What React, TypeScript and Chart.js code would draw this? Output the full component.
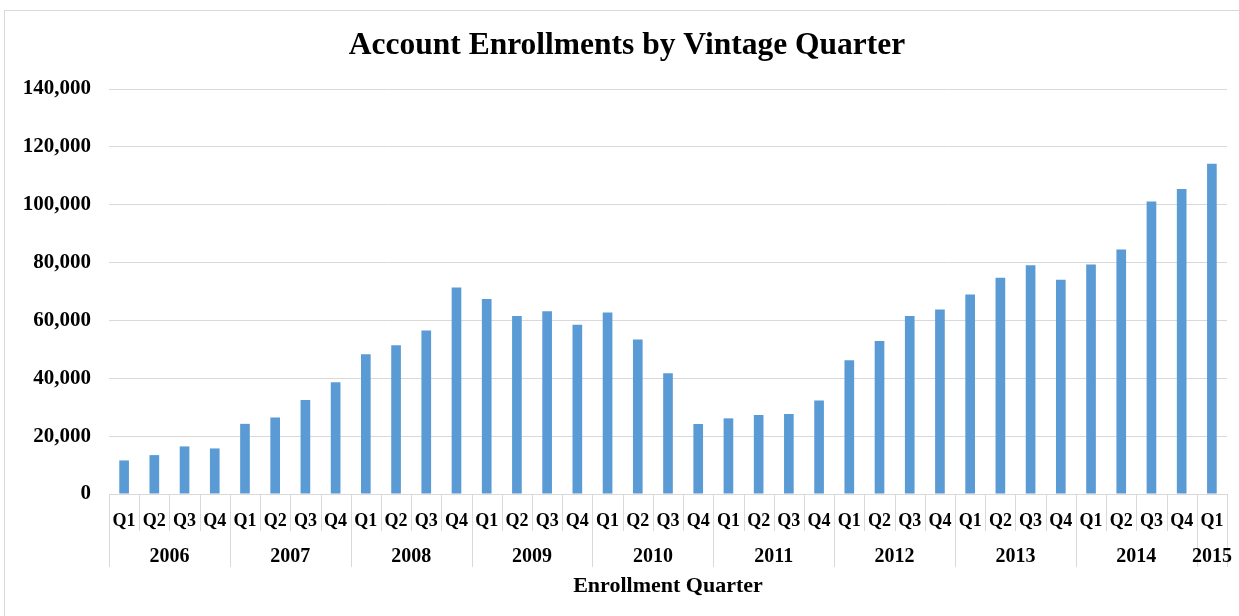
import React, { useEffect, useRef } from "react";
import { Chart, registerables } from "chart.js";

Chart.register(...registerables);

const chartTitle = "Account Enrollments by Vintage Quarter";
const years = ["2006", "2007", "2008", "2009", "2010", "2011", "2012", "2013", "2014", "2015"];
const quartersPerYear = [4, 4, 4, 4, 4, 4, 4, 4, 4, 1];
const quarterNames = ["Q1", "Q2", "Q3", "Q4"];
const enrollments = [
  11600, 13450, 16450, 15750,
  24250, 26450, 32500, 38600,
  48300, 51400, 56550, 71400,
  67450, 61500, 63200, 58500,
  62750, 53450, 41700, 24200,
  26150, 27300, 27650, 32350,
  46200, 52850, 61500, 63800,
  69000, 74750, 79100, 74050,
  79350, 84500, 101100, 105450,
  114200,
];
const yMax = 140000;
const yStep = 20000;

const quarterLabels: string[] = [];
quartersPerYear.forEach((n) => {
  for (let q = 0; q < n; q++) quarterLabels.push(quarterNames[q]);
});

const FONT = "'Liberation Serif', 'DejaVu Serif', serif";
const GRID = "#d9d9d9";

const titlePlugin = {
  id: "centeredTitle",
  afterDraw(chart: any) {
    const ctx = chart.ctx;
    ctx.save();
    ctx.fillStyle = "#000";
    ctx.font = `bold 31.5px ${FONT}`;
    ctx.textAlign = "center";
    ctx.textBaseline = "middle";
    ctx.fillText(chartTitle, 627, 46);
    ctx.restore();
  },
};

const yearAxisPlugin = {
  id: "yearAxis",
  afterDraw(chart: any) {
    const xs = chart.scales.x;
    const ctx = chart.ctx;
    const bottom = chart.chartArea.bottom;
    const n = quarterLabels.length;
    const half = (xs.getPixelForValue(1) - xs.getPixelForValue(0)) / 2;
    const boundary = (i: number) =>
      i < n ? xs.getPixelForValue(i) - half : xs.getPixelForValue(n - 1) + half;
    const yearBounds = new Set<number>();
    let acc = 0;
    yearBounds.add(0);
    quartersPerYear.forEach((c) => {
      acc += c;
      yearBounds.add(acc);
    });
    ctx.save();
    ctx.strokeStyle = GRID;
    ctx.lineWidth = 1;
    for (let i = 0; i <= n; i++) {
      const bx = Math.round(boundary(i)) + 0.5;
      const len = yearBounds.has(i) ? 73 : 37;
      ctx.beginPath();
      ctx.moveTo(bx, bottom);
      ctx.lineTo(bx, bottom + len);
      ctx.stroke();
    }
    ctx.fillStyle = "#000";
    ctx.font = `bold 20px ${FONT}`;
    ctx.textAlign = "center";
    ctx.textBaseline = "middle";
    let start = 0;
    years.forEach((y, k) => {
      const end = start + quartersPerYear[k];
      const cx = (boundary(start) + boundary(end)) / 2;
      ctx.fillText(y, cx, bottom + 63);
      start = end;
    });
    ctx.restore();
  },
};

export default function App() {
  const ref = useRef<HTMLCanvasElement | null>(null);
  useEffect(() => {
    if (!ref.current) return;
    const chart = new Chart(ref.current, {
      type: "bar",
      data: {
        labels: quarterLabels,
        datasets: [
          {
            label: "Enrollments",
            data: enrollments,
            backgroundColor: "#5b9bd5",
            barPercentage: 0.32,
            categoryPercentage: 1,
          },
        ],
      },
      options: {
        animation: false,
        responsive: false,
        maintainAspectRatio: false,
        layout: { padding: { left: 0, right: 12, top: 89, bottom: 0 } },
        plugins: {
          legend: { display: false },
          tooltip: { enabled: false },
          title: { display: false },
        },
        scales: {
          x: {
            offset: true,
            grid: { display: false },
            border: { display: true, color: GRID, width: 1 },
            ticks: {
              color: "#000",
              font: { family: FONT, size: 18, weight: "bold" },
              padding: 8.5,
              maxRotation: 0,
              autoSkip: false,
            },
            title: {
              display: true,
              text: "Enrollment Quarter",
              color: "#000",
              font: { family: FONT, size: 22, weight: "bold", lineHeight: 1.2 },
              padding: { top: 0, bottom: 16.8 },
            },
            afterFit: (s: any) => {
              s.height = 616 - 494;
            },
          },
          y: {
            min: 0,
            max: yMax,
            grid: { color: GRID, lineWidth: 1, drawTicks: false },
            border: { display: false },
            ticks: {
              stepSize: yStep,
              color: "#000",
              font: { family: FONT, size: 21, weight: "bold" },
              padding: 18,
              callback: (v: any) => Number(v).toLocaleString("en-US"),
            },
            afterFit: (s: any) => {
              s.width = 109;
            },
          },
        },
      },
      plugins: [yearAxisPlugin, titlePlugin],
    });
    return () => chart.destroy();
  }, []);
  return (
    <div style={{ position: "absolute", left: 0, top: 0, width: 1239, height: 616, overflow: "hidden", background: "#fff" }}>
      <div
        style={{
          position: "absolute",
          left: 4,
          top: 10,
          width: 1235,
          height: 606,
          borderLeft: `1px solid ${GRID}`,
          borderTop: `1px solid ${GRID}`,
          boxSizing: "border-box",
        }}
      />
      <canvas ref={ref} width={1239} height={616} style={{ position: "absolute", left: 0, top: 0 }} />
    </div>
  );
}
